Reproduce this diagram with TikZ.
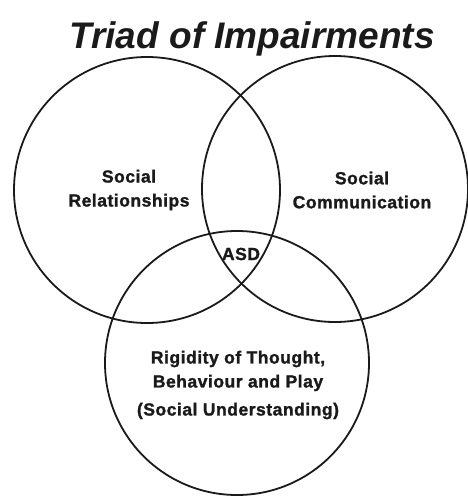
\documentclass[tikz,border=0pt]{standalone}
\usepackage{fontspec}
\usepackage{tikz}
\usetikzlibrary{positioning}
\setmainfont{Liberation Sans}
\newfontfamily\labelfont[LetterSpace=3,FakeBold=1.4]{Liberation Sans}
\definecolor{ink}{HTML}{1A1A1A}
\tikzset{
  ring/.style={draw=ink,circle,line width=1.8pt,minimum size=266pt,inner sep=0pt},
  areatext/.style={align=center,text=ink,inner sep=0pt,
                   font=\labelfont\bfseries\fontsize{17.5}{24}\selectfont},
  titletext/.style={text=ink,inner sep=0pt,
                    font=\bfseries\itshape\fontsize{37}{40}\selectfont}
}
\begin{document}
\begin{tikzpicture}[x=1pt,y=-1pt]
  \useasboundingbox[fill=white] (0,0) rectangle (468,498);
  \node[titletext,anchor=base] (title) at (252,48) {Triad of Impairments};
  \node[ring] (relring) at (147,190) {};
  \node[ring] (comring) at (335,189) {};
  \node[ring,minimum size=264pt] (undring) at (237,363) {};
  \node[areatext] (rel) at (129,190) {Social\\Relationships};
  \node[areatext] (com) at (362,190) {Social\\Communication};
  \node[areatext] (asd) at (241,254) {ASD};
  \node[areatext] (und) at (238,385) {Rigidity of Thought,\\Behaviour and Play\\[4pt](Social Understanding)};
\end{tikzpicture}
\end{document}
